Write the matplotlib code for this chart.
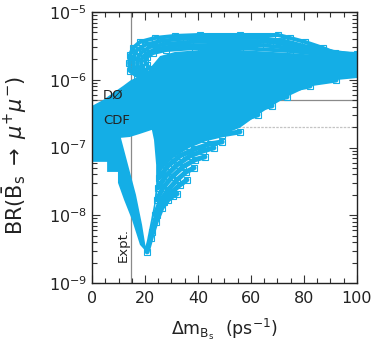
import matplotlib
matplotlib.use("Agg")
import matplotlib.pyplot as plt
from matplotlib.path import Path
from matplotlib.patches import PathPatch
from matplotlib.ticker import MultipleLocator, LogLocator, NullFormatter

plt.rcParams['font.family'] = ['DejaVu Sans']
plt.rcParams['mathtext.fontset'] = 'dejavusans'

BLUE = '#14aee6'

# ─── data ─────────────────────────────────────────────────────────────────────
# dense blue region (outline), Δm in ps^-1 and BR
body_dm = [0, 4.2, 7.9, 11.7, 14.7, 17.4, 20.0, 21.9, 25.7, 31.3, 40.8, 55.8, 74.7, 100,
           100, 92.1, 82.3, 73.6, 67.9, 62.6, 55.8, 49.1, 42.6, 36.2, 30.9, 27.5, 25.7,
           24.5, 23.4, 21.9, 20.8, 18.1, 15.1, 12.1, 9.8, 9.8, 5.7, 5.7, 0]
body_br = [4.11e-7, 5.03e-7, 6.39e-7, 8.10e-7, 9.9e-7, 1.10e-6, 1.10e-6, 1.49e-6, 2.24e-6,
           2.57e-6, 2.75e-6, 2.75e-6, 2.48e-6, 2.10e-6, 1.06e-6, 9.9e-7, 8.10e-7, 5.6e-7,
           4.11e-7, 3.03e-7, 1.95e-7, 1.54e-7, 1.34e-7, 1.09e-7, 8.32e-8, 6.14e-8, 3.94e-8,
           2.0e-8, 1.02e-8, 5.14e-9, 2.79e-9, 3.66e-9, 8.55e-9, 1.69e-8, 3.01e-8, 4.36e-8,
           4.36e-8, 6.14e-8, 6.14e-8]

# empty wedge inside the V
cavity_dm = [10.9, 13.6, 16.6, 18.9, 20.2, 20.8, 21.9, 23.4, 24.2, 24.2, 23.4, 22.6, 18.1, 14.3]
cavity_br = [1.39e-7, 5.54e-8, 2.0e-8, 7.21e-9, 3.5e-9, 4.34e-9, 7.21e-9, 1.43e-8, 2.81e-8,
             5.54e-8, 1.29e-7, 1.82e-7, 1.59e-7, 1.43e-7]

# fingers on the right branch of the V
finger_dm = [
    [20.8, 22.3, 24.2, 26.4, 28.7, 30.6, 32.1],
    [22.6, 24.5, 27.2, 30.2, 33.2, 35.8],
    [23.8, 25.7, 28.7, 32.1, 35.5, 38.5],
    [24.5, 26.8, 30.2, 34.3, 38.9, 42.6],
    [24.9, 27.9, 32.1, 37.0, 41.9, 46.0],
    [25.3, 28.7, 33.2, 38.9, 44.5, 49.1],
    [25.7, 30.2, 36.2, 42.6, 49.1, 55.8],
    [26.4, 31.7, 38.9, 46.4, 54.7, 62.6],
    [27.5, 34.0, 41.9, 50.2, 59.6, 67.9],
    [28.7, 36.2, 45.3, 55.1, 64.9, 73.6],
    [30.2, 38.9, 49.1, 60.4, 72.1, 82.3],
    [32.5, 42.6, 54.0, 66.4, 79.2, 92.1],
]
finger_br = [
    [2.88e-9, 4.65e-9, 8.0e-9, 1.29e-8, 1.69e-8, 1.93e-8, 2.07e-8],
    [5.69e-9, 1.02e-8, 1.58e-8, 2.21e-8, 2.81e-8, 3.33e-8],
    [1.02e-8, 1.58e-8, 2.37e-8, 3.33e-8, 4.36e-8, 5.0e-8],
    [1.69e-8, 2.54e-8, 3.68e-8, 5.18e-8, 6.6e-8, 7.27e-8],
    [2.54e-8, 3.81e-8, 5.54e-8, 7.52e-8, 8.9e-8, 9.87e-8],
    [3.56e-8, 5.36e-8, 7.52e-8, 9.53e-8, 1.13e-7, 1.21e-7],
    [5.0e-8, 7.52e-8, 1.06e-7, 1.34e-7, 1.54e-7, 1.70e-7],
    [7.03e-8, 1.06e-7, 1.48e-7, 1.95e-7, 2.47e-7, 3.03e-7],
    [9.87e-8, 1.48e-7, 2.08e-7, 2.74e-7, 3.59e-7, 4.11e-7],
    [1.29e-7, 1.95e-7, 2.83e-7, 3.84e-7, 4.87e-7, 5.6e-7],
    [1.70e-7, 2.55e-7, 3.71e-7, 5.21e-7, 6.84e-7, 8.10e-7],
    [2.23e-7, 3.35e-7, 4.71e-7, 6.61e-7, 8.38e-7, 9.9e-7],
]

# upper arcs hooking back near the experimental bound
arc_dm = [
    [20.4, 17.0, 14.3, 14.0, 14.3, 15.5, 18.1, 23.8, 31.3, 40.8, 55.8, 70.2, 74.7, 80.4, 87.2, 91.7, 100],
    [21.1, 18.1, 16.2, 15.5, 15.8, 17.0, 20.0, 25.7, 33.2, 44.5, 63.4, 72.8, 86.0, 100],
    [21.9, 19.6, 17.7, 17.0, 17.4, 18.9, 21.9, 27.5, 37.0, 52.1, 67.2, 82.3, 100],
    [22.6, 20.8, 19.2, 18.5, 18.9, 20.8, 24.2, 31.3, 44.5, 63.4, 78.5, 100],
    [23.4, 21.9, 20.8, 20.0, 20.8, 23.0, 27.9, 38.9, 55.8, 74.7, 100],
]
arc_br = [
    [1.03e-6, 1.14e-6, 1.35e-6, 1.77e-6, 2.32e-6, 2.94e-6, 3.61e-6, 4.14e-6, 4.43e-6, 4.58e-6,
     4.58e-6, 4.58e-6, 4.14e-6, 3.61e-6, 2.94e-6, 2.48e-6, 2.40e-6],
    [1.06e-6, 1.18e-6, 1.40e-6, 1.77e-6, 2.24e-6, 2.75e-6, 3.26e-6, 3.73e-6, 4.0e-6, 4.14e-6,
     4.14e-6, 3.73e-6, 2.75e-6, 2.32e-6],
    [1.10e-6, 1.22e-6, 1.44e-6, 1.77e-6, 2.17e-6, 2.57e-6, 3.05e-6, 3.37e-6, 3.61e-6, 3.73e-6,
     3.61e-6, 2.94e-6, 2.24e-6],
    [1.18e-6, 1.30e-6, 1.49e-6, 1.77e-6, 2.10e-6, 2.48e-6, 2.85e-6, 3.15e-6, 3.26e-6, 3.26e-6,
     2.85e-6, 2.17e-6],
    [1.30e-6, 1.44e-6, 1.65e-6, 1.89e-6, 2.17e-6, 2.48e-6, 2.75e-6, 2.94e-6, 2.94e-6, 2.66e-6,
     2.10e-6],
]

d0_limit = 5.0e-7
cdf_limit = 2.0e-7
dm_expt = 14.9

# ─── figure ───────────────────────────────────────────────────────────────────
fig = plt.figure(figsize=(3.74, 3.47), dpi=100)
ax = fig.add_axes([0.246, 0.1844, 0.7085, 0.781])
ax.set_yscale('log')
ax.set_xlim(0, 100)
ax.set_ylim(1e-9, 1e-5)

# experimental limits sit underneath the scan points
ax.axhline(d0_limit, color='#8a8a8a', lw=0.9, zorder=1)
ax.axhline(cdf_limit, color='#c4c4c4', lw=0.9, ls=(0, (2, 1)), zorder=1)
ax.axvline(dm_expt, color='#8a8a8a', lw=0.9, zorder=1)

verts = list(zip(body_dm, body_br)) + [(body_dm[0], body_br[0])]
codes = [Path.MOVETO] + [Path.LINETO] * (len(body_dm) - 1) + [Path.CLOSEPOLY]
verts += list(zip(cavity_dm, cavity_br)) + [(cavity_dm[0], cavity_br[0])]
codes += [Path.MOVETO] + [Path.LINETO] * (len(cavity_dm) - 1) + [Path.CLOSEPOLY]
ax.add_patch(PathPatch(Path(verts, codes), facecolor=BLUE, edgecolor='none', zorder=2))

# scan curves drawn thick, with open squares at the read points for the texture
for xs, ys in zip(finger_dm, finger_br):
    ax.plot(xs, ys, color=BLUE, lw=3.6, solid_capstyle='round', solid_joinstyle='round', zorder=2,
            marker='s', ms=4.5, mfc='none', mec=BLUE, mew=0.8)
for xs, ys in zip(arc_dm, arc_br):
    ax.plot(xs, ys, color=BLUE, lw=2.9, solid_capstyle='round', solid_joinstyle='round', zorder=2,
            marker='s', ms=4, mfc='none', mec=BLUE, mew=0.8)

ax.text(4.2, 5.3e-7, 'DØ', fontsize=9.5, color='#222222', va='baseline', zorder=4)
ax.text(4.2, 2.23e-7, 'CDF', fontsize=9.5, color='#222222', va='baseline', zorder=4)
ax.text(11.9, 2.06e-9, 'Expt.', fontsize=9.5, color='#222222', rotation=90,
        ha='center', va='bottom', zorder=4)

# ─── axes cosmetics ───────────────────────────────────────────────────────────
ax.xaxis.set_major_locator(MultipleLocator(20))
ax.xaxis.set_minor_locator(MultipleLocator(5))
ax.yaxis.set_major_locator(LogLocator(base=10, numticks=10))
ax.yaxis.set_minor_locator(LogLocator(base=10, subs=range(2, 10), numticks=20))
ax.yaxis.set_minor_formatter(NullFormatter())
ax.tick_params(which='both', direction='in', top=True, right=True, colors='#333333',
               labelcolor='#222222', labelsize=11.5, width=0.8)
ax.tick_params(which='major', length=6)
ax.tick_params(which='minor', length=3.5)
ax.tick_params(axis='x', pad=6)
for s in ax.spines.values():
    s.set_linewidth(1.0)
    s.set_color('#222222')

ax.set_xlabel(r'$\Delta\mathrm{m}_{\mathrm{B_s}}\ \ (\mathrm{ps}^{-1})$', fontsize=12.5, color='#222222')
ax.xaxis.set_label_coords(0.5, -0.125)
ax.set_ylabel(r'$\mathrm{BR}(\bar{\mathrm{B}}_{\mathrm{s}}\;\to\;\mu^{+}\mu^{-})$', fontsize=15,
              color='#222222')
ax.yaxis.set_label_coords(-0.238, 0.47)

fig.savefig('out.png', dpi=100)
